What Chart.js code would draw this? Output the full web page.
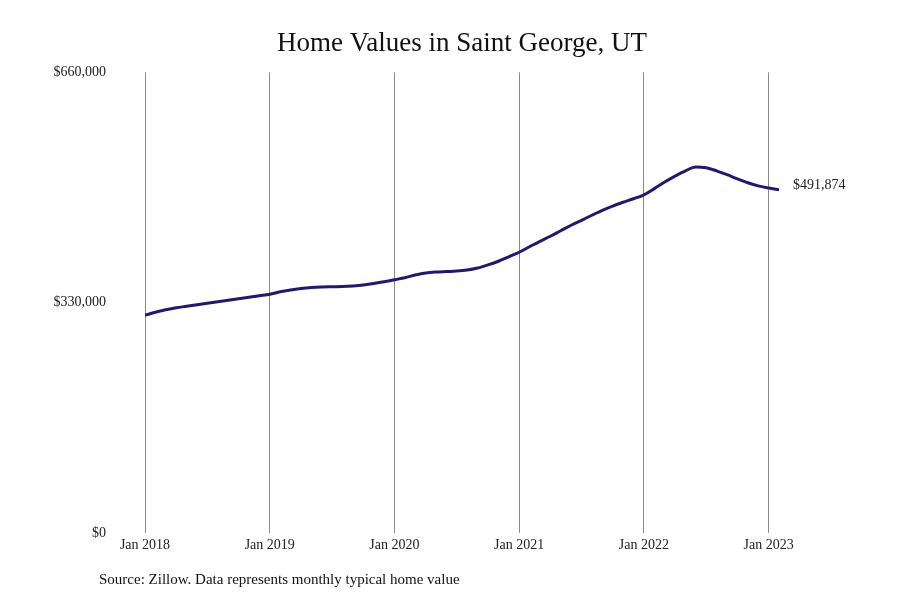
<!DOCTYPE html>
<html>
<head>
<meta charset="utf-8">
<script src="https://cdn.jsdelivr.net/npm/chart.js@4.4.0/dist/chart.umd.min.js"></script>
<style>
  body { margin: 0; background: #fff; }
  canvas { display: block; }
</style>
</head>
<body>
<canvas id="chart" width="900" height="600"></canvas>
<script>
// monthly typical home value, Jan 2018 - Feb 2023
const months = [
  '2018-01','2018-02','2018-03','2018-04','2018-05','2018-06','2018-07','2018-08','2018-09','2018-10','2018-11','2018-12',
  '2019-01','2019-02','2019-03','2019-04','2019-05','2019-06','2019-07','2019-08','2019-09','2019-10','2019-11','2019-12',
  '2020-01','2020-02','2020-03','2020-04','2020-05','2020-06','2020-07','2020-08','2020-09','2020-10','2020-11','2020-12',
  '2021-01','2021-02','2021-03','2021-04','2021-05','2021-06','2021-07','2021-08','2021-09','2021-10','2021-11','2021-12',
  '2022-01','2022-02','2022-03','2022-04','2022-05','2022-06','2022-07','2022-08','2022-09','2022-10','2022-11','2022-12',
  '2023-01','2023-02'
];
const homeValues = [
  312200, 316500, 320000, 322900, 325100, 327200, 329400, 331500, 333700, 335800, 338000, 340100,
  342200, 345800, 348400, 350400, 351800, 352600, 353000, 353300, 354100, 355400, 357600, 360100,
  363000, 365900, 369700, 372600, 374000, 374700, 375400, 376900, 379800, 384300, 389500, 395900,
  402400, 410300, 418100, 425300, 433200, 441100, 448200, 455400, 462500, 468600, 474000, 479000,
  484700, 493500, 503000, 511500, 519000, 524600, 523400, 519000, 513500, 507500, 502000, 497500,
  494300, 491874
];
const tickMonths = [0, 12, 24, 36, 48, 60];
const tickLabels = ['Jan 2018', 'Jan 2019', 'Jan 2020', 'Jan 2021', 'Jan 2022', 'Jan 2023'];
const yTicks = [0, 330000, 660000];

const serif = '"Liberation Serif", "DejaVu Serif", serif';
const lineColor = '#1e1b6e';

const money = v => '$' + v.toLocaleString('en-US');

// source note + last value label
const extras = {
  id: 'extras',
  afterDatasetsDraw(chart) {
    const ctx = chart.ctx;
    const pts = chart.getDatasetMeta(0).data;
    const last = pts[pts.length - 1];
    ctx.save();
    ctx.fillStyle = '#222';
    ctx.font = '14px ' + serif;
    ctx.textAlign = 'left';
    ctx.textBaseline = 'middle';
    ctx.fillText(money(homeValues[homeValues.length - 1]), last.x + 14, last.y - 4);
    ctx.fillStyle = '#111';
    ctx.font = '15px ' + serif;
    ctx.fillText('Source: Zillow. Data represents monthly typical home value', 99, 580);
    ctx.restore();
  }
};

new Chart(document.getElementById('chart'), {
  type: 'line',
  data: {
    datasets: [{
      label: 'Home value',
      data: homeValues.map((v, i) => ({ x: i, y: v })),
      borderColor: lineColor,
      borderWidth: 3,
      pointRadius: 0,
      cubicInterpolationMode: 'monotone',
      fill: false
    }]
  },
  options: {
    responsive: false,
    animation: false,
    layout: { padding: { top: 10, right: 121, bottom: 42, left: 0 } },
    plugins: {
      legend: { display: false },
      tooltip: { enabled: false },
      title: {
        display: true,
        fullSize: false,
        text: 'Home Values in Saint George, UT',
        color: '#111',
        font: { family: serif, size: 27, weight: 'normal' },
        padding: { top: 18, bottom: 12 }
      }
    },
    scales: {
      x: {
        type: 'linear',
        min: 0,
        max: months.length - 1,
        afterBuildTicks: s => { s.ticks = tickMonths.map(v => ({ value: v })); },
        ticks: {
          autoSkip: false,
          maxRotation: 0,
          padding: 4,
          color: '#222',
          font: { family: serif, size: 14 },
          callback: v => tickLabels[tickMonths.indexOf(v)]
        },
        grid: { color: '#8a8a8a', lineWidth: 1, drawTicks: false },
        border: { display: false }
      },
      y: {
        min: 0,
        max: 660000,
        afterBuildTicks: s => { s.ticks = yTicks.map(v => ({ value: v })); },
        afterFit: s => { s.width = 145; },
        ticks: {
          padding: 31,
          color: '#222',
          font: { family: serif, size: 14 },
          callback: v => money(v)
        },
        grid: { display: false },
        border: { display: false }
      }
    }
  },
  plugins: [extras]
});
</script>
</body>
</html>
